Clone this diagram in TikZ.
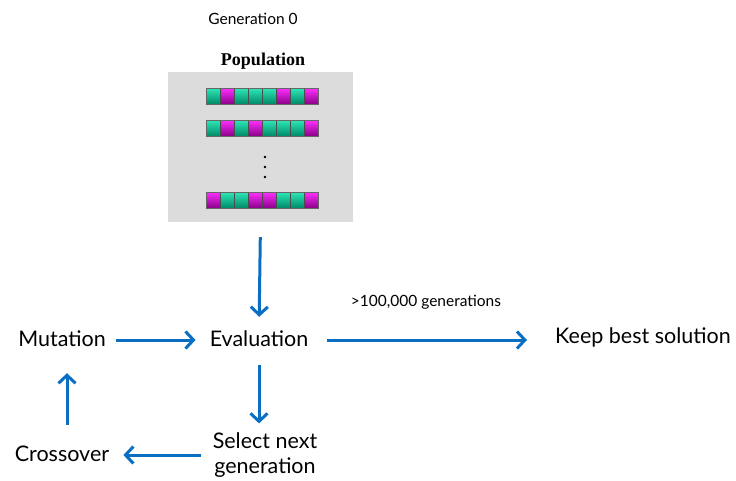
\documentclass[tikz,border=0pt]{standalone}
\usepackage{fontspec}
\setmainfont{Lato}
\newfontfamily\popfont{Liberation Serif}
\usetikzlibrary{arrows.meta,calc}
\definecolor{arrowblue}{HTML}{0A6FC2}
\definecolor{boxgray}{HTML}{DCDCDC}
\definecolor{gtop}{HTML}{2EE8B8}
\definecolor{gbot}{HTML}{008A68}
\definecolor{mtop}{HTML}{FF30FF}
\definecolor{mbot}{HTML}{8A008A}
\tikzset{
  lbl/.style={inner sep=0pt, anchor=base, font=\fontsize{21.5}{25}\selectfont, text height=16pt, text depth=4pt},
  small/.style={inner sep=0pt, anchor=base, font=\fontsize{15.5}{18}\selectfont},
  flow/.style={draw=arrowblue, line width=3pt, -{Straight Barb[length=8pt,width=17pt]}},
  gcell/.style={top color=gtop, bottom color=gbot, draw=black!70, line width=0.6pt},
  mcell/.style={top color=mtop, bottom color=mbot, draw=black!70, line width=0.6pt},
}
\newcommand{\chromrow}[2]{%
  \foreach \c [count=\i from 0] in {#2} {
    \ifnum\c=1
      \path[mcell] (206+14*\i,#1) rectangle (220+14*\i,#1+16);
    \else
      \path[gcell] (206+14*\i,#1) rectangle (220+14*\i,#1+16);
    \fi
  }
  \draw[black!60, line width=1pt] (206,#1) rectangle (318,#1+16);
}
\begin{document}
\begin{tikzpicture}[x=1pt,y=-1pt]
\useasboundingbox (0,0) rectangle (736,480);
% population
\node[small] (gen0) at (253,24) {Generation 0};
\node[inner sep=0pt, anchor=base, font=\popfont\bfseries\fontsize{18}{20}\selectfont] (poptitle) at (263,65) {Population};
\node[fill=boxgray, minimum width=185pt, minimum height=150pt, inner sep=0pt] (pop) at (260.5,147) {};
\chromrow{88}{0,1,0,0,0,1,0,1}
\chromrow{120}{0,1,0,1,0,0,0,1}
\chromrow{192}{1,0,0,1,1,0,0,1}
\foreach \yy in {157,167,177} \fill[black] (265,\yy) circle (1.3pt);
% labels
\node[lbl] (mut) at (62,346) {Mutation};
\node[lbl] (eval) at (259,346) {Evaluation};
\node[lbl] (keep) at (643,343) {Keep best solution};
\node[small] (gens) at (426,306) {>100,000 generations};
\node[inner sep=0pt, align=center, font=\fontsize{21.5}{25}\selectfont] (sel) at (265,455) {Select next\\generation};
\node[lbl] (cross) at (62,461) {Crossover};
% arrows
\draw[flow, shorten <=15pt, shorten >=13pt] (pop.south) -- (eval.north);
\draw[flow, shorten <=10pt, shorten >=14pt] (mut.east) -- (eval.west);
\draw[flow, shorten <=19pt, shorten >=28pt] (eval.east) -- (eval.east -| keep.west);
\draw[flow, shorten <=15pt, shorten >=9pt] (eval.south) -- (eval.south |- sel.north);
\draw[flow, shorten <=12pt, shorten >=14pt] (cross.east -| sel.west) -- (cross.east);
\draw[flow, shorten <=20pt, shorten >=23pt] ([xshift=5pt]cross.north) -- ([xshift=5pt]mut.south);
\end{tikzpicture}
\end{document}
